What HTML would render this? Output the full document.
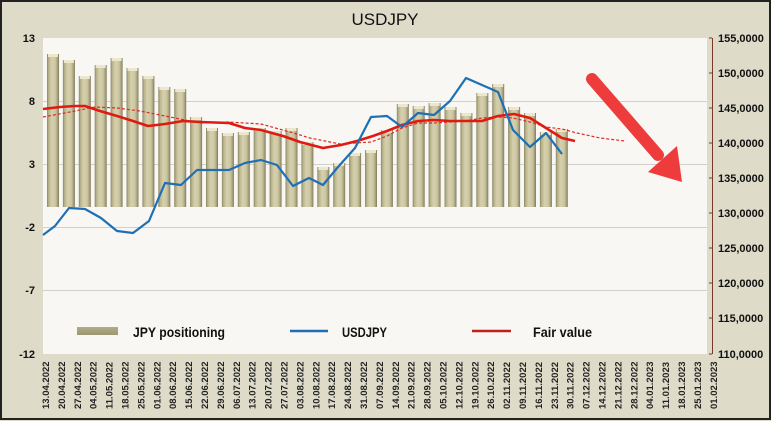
<!DOCTYPE html>
<html><head><meta charset="utf-8"><style>
html,body{margin:0;padding:0;background:#fff}
svg{display:block;font-family:"Liberation Sans",sans-serif}
</style></head><body>
<svg width="771" height="421" viewBox="0 0 771 421" xmlns="http://www.w3.org/2000/svg">
<defs>
<linearGradient id="bg" x1="0" x2="1" y1="0" y2="0">
<stop offset="0" stop-color="#8c8664"/><stop offset="0.15" stop-color="#b9b38e"/><stop offset="0.4" stop-color="#d6d0ad"/><stop offset="0.7" stop-color="#ccc6a2"/><stop offset="0.88" stop-color="#a6a07c"/><stop offset="1" stop-color="#7d7858"/>
</linearGradient>
<linearGradient id="lg" x1="0" x2="0" y1="0" y2="1"><stop offset="0" stop-color="#b2ab86"/><stop offset="1" stop-color="#9c9672"/></linearGradient>
</defs>
<rect x="0" y="0" width="771" height="421" fill="#dedbc9"/>
<rect x="1" y="1" width="769" height="418" fill="none" stroke="#222" stroke-width="2"/>
<rect x="43" y="38" width="664" height="316" fill="#f8f7f3"/>
<g stroke="#d0d0cc" stroke-width="1">
<line x1="43" x2="707" y1="101.5" y2="101.5"/><line x1="43" x2="707" y1="164.5" y2="164.5"/>
<line x1="43" x2="707" y1="227.5" y2="227.5"/><line x1="43" x2="707" y1="290.5" y2="290.5"/>
</g>
<text x="385" y="25" font-size="17" text-anchor="middle" fill="#111">USDJPY</text>
<g font-size="11" font-weight="bold" fill="#111" text-anchor="end">
<text x="35" y="42">13</text><text x="35" y="105">8</text><text x="35" y="168">3</text>
<text x="35" y="231">-2</text><text x="35" y="294">-7</text><text x="35" y="358">-12</text>
</g>
<line x1="712.5" x2="712.5" y1="38" y2="354" stroke="#7a3a2a" stroke-width="1"/>
<g stroke="#7a3a2a" stroke-width="1">
<line x1="709" x2="712" y1="38" y2="38"/><line x1="709" x2="712" y1="73" y2="73"/><line x1="709" x2="712" y1="108" y2="108"/><line x1="709" x2="712" y1="143" y2="143"/><line x1="709" x2="712" y1="178" y2="178"/><line x1="709" x2="712" y1="213" y2="213"/><line x1="709" x2="712" y1="248" y2="248"/><line x1="709" x2="712" y1="283" y2="283"/><line x1="709" x2="712" y1="318" y2="318"/><line x1="709" x2="712" y1="354" y2="354"/>
</g>
<g font-size="11" font-weight="bold" fill="#111">
<text x="718" y="42">155,0000</text><text x="718" y="77">150,0000</text><text x="718" y="112">145,0000</text><text x="718" y="147">140,0000</text><text x="718" y="182">135,0000</text><text x="718" y="217">130,0000</text><text x="718" y="252">125,0000</text><text x="718" y="287">120,0000</text><text x="718" y="322">115,0000</text><text x="718" y="358">110,0000</text>
</g>
<g fill="url(#bg)">
<rect x="47" y="54" width="12" height="153"/><rect x="62.9" y="60" width="12" height="147"/><rect x="78.8" y="76" width="12" height="131"/><rect x="94.7" y="65" width="12" height="142"/><rect x="110.6" y="58" width="12" height="149"/><rect x="126.5" y="68" width="12" height="139"/><rect x="142.4" y="76" width="12" height="131"/><rect x="158.3" y="87" width="12" height="120"/><rect x="174.2" y="89" width="12" height="118"/><rect x="190.1" y="117" width="12" height="90"/><rect x="206" y="128" width="12" height="79"/><rect x="221.9" y="133" width="12" height="74"/><rect x="237.8" y="132" width="12" height="75"/><rect x="253.7" y="128" width="12" height="79"/><rect x="269.6" y="131" width="12" height="76"/><rect x="285.5" y="128" width="12" height="79"/><rect x="301.4" y="142" width="12" height="65"/><rect x="317.3" y="167" width="12" height="40"/><rect x="333.2" y="163" width="12" height="44"/><rect x="349.1" y="153" width="12" height="54"/><rect x="365" y="150" width="12" height="57"/><rect x="380.9" y="130" width="12" height="77"/><rect x="396.8" y="104" width="12" height="103"/><rect x="412.7" y="106" width="12" height="101"/><rect x="428.6" y="103" width="12" height="104"/><rect x="444.5" y="107" width="12" height="100"/><rect x="460.4" y="113" width="12" height="94"/><rect x="476.3" y="93" width="12" height="114"/><rect x="492.2" y="84" width="12" height="123"/><rect x="508.1" y="107" width="12" height="100"/><rect x="524" y="113" width="12" height="94"/><rect x="539.9" y="132" width="12" height="75"/><rect x="555.8" y="129" width="12" height="78"/>
</g>
<g fill="#ece7cc">
<rect x="48" y="54" width="10" height="3"/><rect x="63.9" y="60" width="10" height="3"/><rect x="79.8" y="76" width="10" height="3"/><rect x="95.7" y="65" width="10" height="3"/><rect x="111.6" y="58" width="10" height="3"/><rect x="127.5" y="68" width="10" height="3"/><rect x="143.4" y="76" width="10" height="3"/><rect x="159.3" y="87" width="10" height="3"/><rect x="175.2" y="89" width="10" height="3"/><rect x="191.1" y="117" width="10" height="3"/><rect x="207" y="128" width="10" height="3"/><rect x="222.9" y="133" width="10" height="3"/><rect x="238.8" y="132" width="10" height="3"/><rect x="254.7" y="128" width="10" height="3"/><rect x="270.6" y="131" width="10" height="3"/><rect x="286.5" y="128" width="10" height="3"/><rect x="302.4" y="142" width="10" height="3"/><rect x="318.3" y="167" width="10" height="3"/><rect x="334.2" y="163" width="10" height="3"/><rect x="350.1" y="153" width="10" height="3"/><rect x="366" y="150" width="10" height="3"/><rect x="381.9" y="130" width="10" height="3"/><rect x="397.8" y="104" width="10" height="3"/><rect x="413.7" y="106" width="10" height="3"/><rect x="429.6" y="103" width="10" height="3"/><rect x="445.5" y="107" width="10" height="3"/><rect x="461.4" y="113" width="10" height="3"/><rect x="477.3" y="93" width="10" height="3"/><rect x="493.2" y="84" width="10" height="3"/><rect x="509.1" y="107" width="10" height="3"/><rect x="525" y="113" width="10" height="3"/><rect x="540.9" y="132" width="10" height="3"/><rect x="556.8" y="129" width="10" height="3"/>
</g>
<polyline fill="none" stroke="#e02a1e" stroke-width="1.2" stroke-dasharray="3,2" points="43,117 70,112 95,107 117,108 140,111 170,117 200,123 229,122 261,124 290,132 310,138 340,144 355,143 371,142 387,136 402,128 418,123 434,123 450,122 466,121 482,118 498,117 513,118 530,122 546,127 562,129 577,133 600,138 625,141"/>
<polyline fill="none" stroke="#e01a10" stroke-width="2.6" stroke-linejoin="round" points="43,109 60,107 75,106 85,106 100,111 117,116 133,121 148,126 165,124 183,121 200,122 229,123 245,128 261,130 283,136 300,142 323,148 341,145 357,141 373,136 387,131 402,125 418,121 434,120 450,121 466,121 482,121 498,116 514,114 530,118 546,128 562,138 575,141"/>
<polyline fill="none" stroke="#1f6fb4" stroke-width="2.2" stroke-linejoin="round" points="43,235 55,226 69,208 85,209 101,218 117,231 133,233 149,221 165,183 181,185 197,170 213,170 229,170 245,163 261,160 277,165 293,186 309,178 323,185 338,167 355,148 371,117 387,116 402,127 418,113 434,115 450,101 466,78 482,85 498,92 513,130 530,147 546,133 562,154"/>
<g>
<line x1="592" y1="79" x2="658" y2="155" stroke="#ee3b3b" stroke-width="12" stroke-linecap="round"/>
<polygon points="682,182 648,172 677,146" fill="#ee3b3b"/>
</g>
<rect x="77" y="327" width="41" height="8" fill="url(#lg)"/>
<line x1="290" x2="328" y1="331" y2="331" stroke="#1f6fb4" stroke-width="2.5"/>
<line x1="472" x2="511" y1="331" y2="331" stroke="#c0201a" stroke-width="2.5"/>
<g font-size="14" font-weight="bold" fill="#111">
<text x="133" y="337" textLength="92" lengthAdjust="spacingAndGlyphs">JPY positioning</text><text x="342" y="337" textLength="45" lengthAdjust="spacingAndGlyphs">USDJPY</text><text x="533" y="337" textLength="59" lengthAdjust="spacingAndGlyphs">Fair value</text>
</g>
<g font-size="9.5" font-weight="bold" fill="#222">
<text transform="translate(49,409) rotate(-90)">13.04.2022</text>
<text transform="translate(64.9,409) rotate(-90)">20.04.2022</text>
<text transform="translate(80.8,409) rotate(-90)">27.04.2022</text>
<text transform="translate(96.7,409) rotate(-90)">04.05.2022</text>
<text transform="translate(112.6,409) rotate(-90)">11.05.2022</text>
<text transform="translate(128.5,409) rotate(-90)">18.05.2022</text>
<text transform="translate(144.4,409) rotate(-90)">25.05.2022</text>
<text transform="translate(160.3,409) rotate(-90)">01.06.2022</text>
<text transform="translate(176.2,409) rotate(-90)">08.06.2022</text>
<text transform="translate(192.1,409) rotate(-90)">15.06.2022</text>
<text transform="translate(208,409) rotate(-90)">22.06.2022</text>
<text transform="translate(223.9,409) rotate(-90)">29.06.2022</text>
<text transform="translate(239.8,409) rotate(-90)">06.07.2022</text>
<text transform="translate(255.7,409) rotate(-90)">13.07.2022</text>
<text transform="translate(271.6,409) rotate(-90)">20.07.2022</text>
<text transform="translate(287.5,409) rotate(-90)">27.07.2022</text>
<text transform="translate(303.4,409) rotate(-90)">03.08.2022</text>
<text transform="translate(319.3,409) rotate(-90)">10.08.2022</text>
<text transform="translate(335.2,409) rotate(-90)">17.08.2022</text>
<text transform="translate(351.1,409) rotate(-90)">24.08.2022</text>
<text transform="translate(367,409) rotate(-90)">31.08.2022</text>
<text transform="translate(382.9,409) rotate(-90)">07.09.2022</text>
<text transform="translate(398.8,409) rotate(-90)">14.09.2022</text>
<text transform="translate(414.7,409) rotate(-90)">21.09.2022</text>
<text transform="translate(430.6,409) rotate(-90)">28.09.2022</text>
<text transform="translate(446.5,409) rotate(-90)">05.10.2022</text>
<text transform="translate(462.4,409) rotate(-90)">12.10.2022</text>
<text transform="translate(478.3,409) rotate(-90)">19.10.2022</text>
<text transform="translate(494.2,409) rotate(-90)">26.10.2022</text>
<text transform="translate(510.1,409) rotate(-90)">02.11.2022</text>
<text transform="translate(526,409) rotate(-90)">09.11.2022</text>
<text transform="translate(541.9,409) rotate(-90)">16.11.2022</text>
<text transform="translate(557.8,409) rotate(-90)">23.11.2022</text>
<text transform="translate(573.7,409) rotate(-90)">30.11.2022</text>
<text transform="translate(589.6,409) rotate(-90)">07.12.2022</text>
<text transform="translate(605.5,409) rotate(-90)">14.12.2022</text>
<text transform="translate(621.4,409) rotate(-90)">21.12.2022</text>
<text transform="translate(637.3,409) rotate(-90)">28.12.2022</text>
<text transform="translate(653.2,409) rotate(-90)">04.01.2023</text>
<text transform="translate(669.1,409) rotate(-90)">11.01.2023</text>
<text transform="translate(685,409) rotate(-90)">18.01.2023</text>
<text transform="translate(700.9,409) rotate(-90)">25.01.2023</text>
<text transform="translate(716.8,409) rotate(-90)">01.02.2023</text>
</g>
</svg>
</body></html>
